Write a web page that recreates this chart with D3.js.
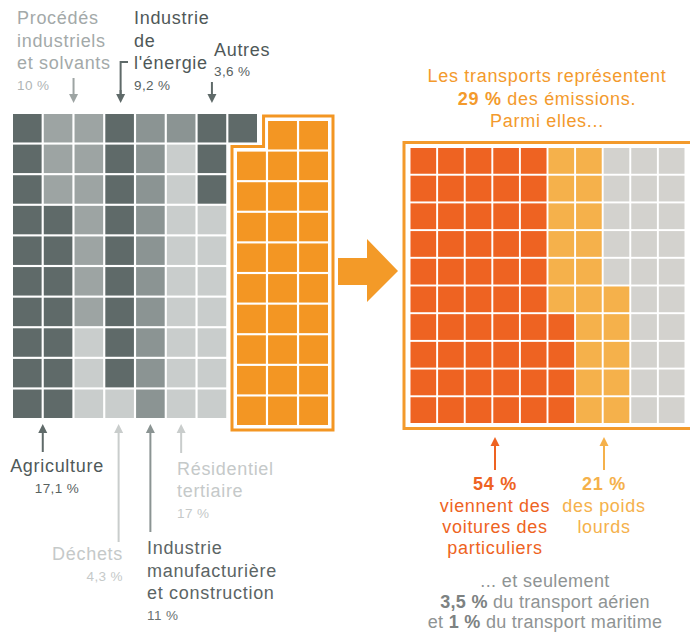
<!DOCTYPE html>
<html><head><meta charset="utf-8">
<script src="https://cdn.jsdelivr.net/npm/d3@7/dist/d3.min.js"></script>
<style>
body{margin:0;background:#fff;}
text{font-family:"Liberation Sans",Arial,sans-serif;}
</style></head>
<body><svg id="c" width="690" height="635"></svg>
<script>
// ---------- DATA ----------
const categories = ["Agriculture","Procédés industriels et solvants","Industrie de l'énergie","Déchets","Industrie manufacturière et construction","Résidentiel tertiaire","Autres","Transports"];
const shares = [17.1, 10, 9.2, 4.3, 11, 17, 3.6, 29];
// gray grid, one entry per column: runs of [category index, cell count], top to bottom
const grayColumns = [
  [[0,10]],
  [[1,3],[0,7]],
  [[1,7],[3,3]],
  [[2,9],[3,1]],
  [[4,10]],
  [[4,1],[5,9]],
  [[6,3],[5,7]],
  [[6,1]]
];
// transport block (null = empty cell)
const transportColumns = [
  [[null,1],[7,9]],
  [[7,10]],
  [[7,10]]
];
const transportSub = ["Voitures des particuliers","Poids lourds","Autres transports"];
const transportSubShares = [54, 21, 25];
const transportSubColumns = [
  [[0,10]],[[0,10]],[[0,10]],[[0,10]],[[0,10]],
  [[1,6],[0,4]],
  [[1,10]],
  [[2,5],[1,5]],
  [[2,10]],[[2,10]]
];

// ---------- STYLE ----------
const catColors = ["#5f6a69","#9da4a3","#5f6a69","#c9cdcc","#8b9493","#c9cdcc","#5f6a69","#f39623"];
const subColors = ["#ee6322","#f5b14b","#d3d2ce"];
const FS = 18, FSP = 13.5, LS = 0.7;
const svg = d3.select("#c");

function cellsFrom(columns){
  const out=[];
  columns.forEach((runs,c)=>{
    let r=0;
    runs.forEach(([k,n])=>{ for(let i=0;i<n;i++){ if(k!==null) out.push({col:c,row:r,k}); r++; } });
  });
  return out;
}
const rows = d3.range(10);

// left gray grid
const xg = d3.scaleBand().domain(d3.range(grayColumns.length)).range([13,257]).paddingInner(0.07);
const yg = d3.scaleBand().domain(rows).range([114,418]).paddingInner(0.07);
svg.append("g").selectAll("rect").data(cellsFrom(grayColumns)).join("rect")
  .attr("x",d=>xg(d.col)).attr("y",d=>yg(d.row))
  .attr("width",xg.bandwidth()).attr("height",yg.bandwidth())
  .attr("fill",d=>catColors[d.k]);

// transport block
const xt = d3.scaleBand().domain(d3.range(transportColumns.length)).range([237,328]).paddingInner(0.07);
const yt = d3.scaleBand().domain(rows).range([121,425]).paddingInner(0.07);
svg.append("g").selectAll("rect").data(cellsFrom(transportColumns)).join("rect")
  .attr("x",d=>xt(d.col)).attr("y",d=>yt(d.row))
  .attr("width",xt.bandwidth()).attr("height",yt.bandwidth())
  .attr("fill",d=>catColors[d.k]);
{
  const o=5, bw=xt.bandwidth(), bh=yt.bandwidth();
  const L=xt(0)-o, R=xt(2)+bw+o, T1=yt(1)-o, T0=yt(0)-o, S=xt(1)-o+0.5, B=yt(9)+bh+o;
  svg.append("path").attr("d",`M${L},${T1}H${S}V${T0}H${R}V${B}H${L}Z`)
    .attr("fill","none").attr("stroke","#f39623").attr("stroke-width",3);
}

// big arrow
svg.append("path")
  .attr("d","M338,258H367V239L398,271L367,302V285H338Z")
  .attr("fill","#f39a28");

// right grid
const xr = d3.scaleBand().domain(d3.range(transportSubColumns.length)).range([410.5,684.5]).paddingInner(0.07);
const yr = d3.scaleBand().domain(rows).range([148,423]).paddingInner(0.07);
svg.append("g").selectAll("rect").data(cellsFrom(transportSubColumns)).join("rect")
  .attr("x",d=>xr(d.col)).attr("y",d=>yr(d.row))
  .attr("width",xr.bandwidth()).attr("height",yr.bandwidth())
  .attr("fill",d=>subColors[d.k]);
svg.append("rect").attr("x",xr(0)-6.5).attr("y",yr(0)-5.5)
  .attr("width",300).attr("height",yr(9)+yr.bandwidth()+5.5-(yr(0)-5.5))
  .attr("fill","none").attr("stroke","#f39a2c").attr("stroke-width",3);

// ---------- small arrows ----------
function arrow(x,y1,y2,color){
  const dir = y2>y1?1:-1, hl=9, hw=4.5;
  svg.append("line").attr("x1",x).attr("x2",x).attr("y1",y1).attr("y2",y2-dir*hl+dir*1)
    .attr("stroke",color).attr("stroke-width",2);
  svg.append("path").attr("d",`M${x-hw},${y2-dir*hl}L${x+hw},${y2-dir*hl}L${x},${y2}Z`).attr("fill",color);
}
const mid = c => xg(c)+xg.bandwidth()/2;
const gap = c => xg(c)-1;
// top
arrow(gap(2), 78, 103, "#9da4a3");
svg.append("path").attr("d",`M128,62H${mid(3)+1}V94`).attr("fill","none").attr("stroke","#5f6a69").attr("stroke-width",2);
arrow(mid(3)+1, 90, 103, "#5f6a69");
arrow(mid(6), 82, 103, "#5f6a69");
// bottom
arrow(gap(1), 452, 424, "#5f6a69");
arrow(mid(3)-1, 542, 424, "#c9cdcc");
arrow(mid(4), 532, 424, "#8b9493");
arrow(mid(5), 453, 424, "#c9cdcc");
// right
arrow(495, 470, 437, "#ee6322");
arrow(604, 470, 437, "#f5b14b");

// ---------- labels ----------
function fmt(v){ return String(v).replace(".",",")+" %"; }
function txt(x,y,s,size,color,anchor,weight){
  return svg.append("text").attr("x",x).attr("y",y).attr("font-size",size).attr("letter-spacing",LS)
    .attr("fill",color).attr("text-anchor",anchor||"start").attr("font-weight",weight||"normal").text(s);
}
function label(x,y,lines,pct,color,pctColor,anchor,lh,pctGap){
  lh = lh||22.5; pctGap = pctGap||20.5;
  lines.forEach((s,i)=>txt(x,y+i*lh,s,FS,color,anchor));
  if(pct!==null) txt(x,y+(lines.length-1)*lh+pctGap,pct,FSP,pctColor||color,anchor).attr("letter-spacing",0.4);
}
label(17,24,["Procédés","industriels","et solvants"],fmt(shares[1]),"#a3a9a9","#b0b5b5");
label(134,24,["Industrie","de","l'énergie"],fmt(shares[2]),"#4f5858","#59625f");
label(214,56,["Autres"],fmt(shares[6]),"#4f5858","#59625f","start",22,19.5);
label(57,472,["Agriculture"],fmt(shares[0]),"#4f5959","#59625f","middle");
label(123,560,["Déchets"],fmt(shares[3]),"#c5c9c9","#c5c9c9","end");
label(147,554,["Industrie","manufacturière","et construction"],fmt(shares[4]),"#5c6565","#6a7272");
label(177,475,["Résidentiel","tertiaire"],fmt(shares[5]),"#c5c9c9","#c5c9c9","start",21.5,21);

// right header
{
  const O="#f39a2c";
  txt(547,82,"Les transports représentent",FS,O,"middle");
  const t=txt(547,105,"",FS,O,"middle");
  t.append("tspan").attr("font-weight","bold").text(fmt(shares[7]));
  t.append("tspan").text(" des émissions.");
  txt(547,127,"Parmi elles...",FS,O,"middle");
}
// right bottom
{
  txt(495,490,fmt(transportSubShares[0]),FS,"#ee6322","middle","bold");
  ["viennent des","voitures des","particuliers"].forEach((s,i)=>txt(495,512+i*21,s,FS,"#ee6322","middle"));
  txt(604,490,fmt(transportSubShares[1]),FS,"#f5b14b","middle","bold");
  ["des poids","lourds"].forEach((s,i)=>txt(604,512+i*21,s,FS,"#f5b14b","middle"));

  const G="#8f9494", GB="#7d8282";
  txt(545,587,"... et seulement",FS,G,"middle").attr("letter-spacing",0.4);
  const t2=txt(545,607.5,"",FS,G,"middle").attr("letter-spacing",0.3);
  t2.append("tspan").attr("font-weight","bold").attr("fill",GB).text("3,5 %");
  t2.append("tspan").text(" du transport aérien");
  const t3=txt(545,628,"",FS,G,"middle").attr("letter-spacing",0.3);
  t3.append("tspan").text("et ");
  t3.append("tspan").attr("font-weight","bold").attr("fill",GB).text("1 %");
  t3.append("tspan").text(" du transport maritime");
}
</script></body></html>
